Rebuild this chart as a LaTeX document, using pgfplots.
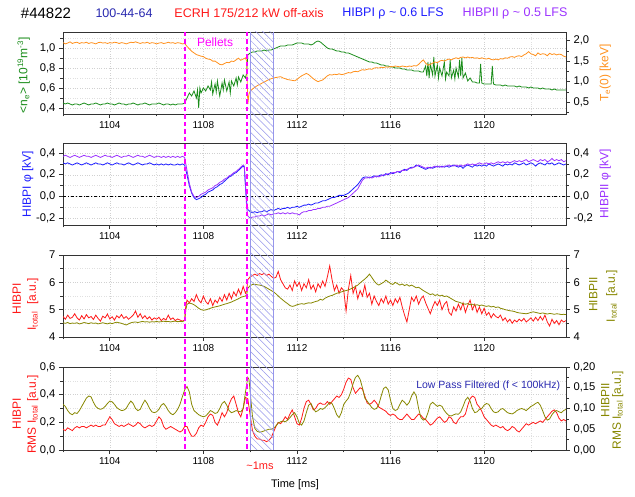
\documentclass[border=0pt]{standalone}
\usepackage{fontspec}
\setmainfont{Liberation Sans}
\usepackage{pgfplots}
\pgfplotsset{compat=1.18}
\usetikzlibrary{patterns.meta}
\definecolor{cgreen}{RGB}{25,140,25}
\definecolor{corange}{RGB}{255,145,30}
\definecolor{cblue}{RGB}{30,30,255}
\definecolor{cpurple}{RGB}{155,50,255}
\definecolor{cred}{RGB}{255,25,25}
\definecolor{colive}{RGB}{135,135,0}
\definecolor{cmag}{RGB}{255,0,255}
\definecolor{cdblue}{RGB}{40,40,175}
\definecolor{chatch}{RGB}{150,150,235}
\newcommand{\tfont}{\fontsize{10}{12}\selectfont}
\newcommand{\yfont}{\fontsize{11.2}{13}\selectfont}
\newcommand{\lfont}{\fontsize{12}{14}\selectfont}
\pgfplotsset{
  base/.style={scale only axis, width=503pt, height=82pt, xmin=1102, xmax=1123.5,
    axis line style={black!80, line width=0.8pt},
    tick align=outside, tick style={black!80, line width=0.6pt},
    major tick length=4pt, minor tick length=2.5pt,
    xticklabel style={font=\tfont}, yticklabel style={font=\yfont},
    every axis plot/.append style={line width=0.8pt}, clip mode=individual},
  leftax/.style={base, xtick={1104,1108,1112,1116,1120}, xticklabels={1104,1108,1112,1116,1120},
    minor xtick={1102,1106,1110,1114,1118,1122}, xtick pos=lower, ytick pos=left,
    grid=both, major grid style={black!18, dotted}, minor grid style={black!12, dotted}},
  rightax/.style={base, axis x line=none, axis y line*=right, ytick pos=right},
}
\begin{document}
\begin{tikzpicture}
\path[use as bounding box] (0,0) rectangle (635pt,497pt);
% header
\node[font=\fontsize{15}{17}\selectfont] at (46pt,484pt) {\#44822};
\node[font=\fontsize{12.5}{14}\selectfont, text=cdblue] at (124pt,484pt) {100-44-64};
\node[font=\fontsize{12.5}{14}\selectfont, text=cred] at (249pt,484pt) {ECRH 175/212 kW off-axis};
\node[font=\fontsize{12.5}{14}\selectfont, text=cblue] at (393pt,484pt) {HIBPI ρ \textasciitilde{} 0.6 LFS};
\node[font=\fontsize{12.5}{14}\selectfont, text=cpurple] at (515pt,484pt) {HIBPII ρ \textasciitilde{} 0.5 LFS};

% ================= Panel 1 =================
\begin{axis}[leftax, at={(63pt,383pt)}, anchor=south west, ymin=0.34, ymax=1.16,
  ytick={0.4,0.6,0.8,1.0}, yticklabels={{0,4},{0,6},{0,8},{1,0}}, minor ytick={0.5,0.7,0.9,1.1}]
\addplot[cgreen] coordinates {(1102.0,0.45)(1102.1,0.44)(1102.2,0.45)(1102.3,0.44)(1102.4,0.43)(1102.5,0.44)(1102.6,0.44)(1102.7,0.43)(1102.8,0.44)(1102.9,0.45)(1103.0,0.44)(1103.1,0.43)(1103.2,0.44)(1103.3,0.44)(1103.4,0.45)(1103.5,0.44)(1103.6,0.43)(1103.7,0.44)(1103.8,0.44)(1103.9,0.45)(1104.0,0.44)(1104.1,0.44)(1104.2,0.43)(1104.3,0.44)(1104.4,0.45)(1104.5,0.44)(1104.6,0.44)(1104.7,0.43)(1104.8,0.44)(1104.9,0.44)(1105.0,0.45)(1105.1,0.44)(1105.2,0.43)(1105.3,0.44)(1105.4,0.44)(1105.5,0.45)(1105.6,0.44)(1105.7,0.43)(1105.8,0.44)(1105.9,0.44)(1106.0,0.44)(1106.1,0.45)(1106.2,0.44)(1106.3,0.43)(1106.4,0.44)(1106.5,0.44)(1106.6,0.43)(1106.7,0.44)(1106.8,0.43)(1106.9,0.44)(1107.0,0.44)(1107.1,0.44)(1107.2,0.45)
(1107.3,0.50)(1107.4,0.55)(1107.5,0.52)(1107.6,0.57)(1107.7,0.50)(1107.75,0.58)(1107.8,0.40)(1107.85,0.60)(1107.9,0.55)(1108.0,0.60)(1108.1,0.57)(1108.2,0.62)(1108.3,0.58)(1108.35,0.66)(1108.4,0.54)(1108.5,0.64)(1108.55,0.56)(1108.6,0.67)(1108.7,0.52)(1108.8,0.65)(1108.85,0.58)(1108.9,0.68)(1109.0,0.57)(1109.1,0.66)(1109.15,0.55)(1109.2,0.67)(1109.3,0.62)(1109.4,0.70)(1109.45,0.63)(1109.5,0.71)(1109.6,0.66)(1109.7,0.73)(1109.8,0.70)(1109.85,0.75)
(1109.9,0.93)(1110.0,0.95)(1110.1,0.96)(1110.2,0.96)(1110.3,0.97)(1110.4,0.97)(1110.5,0.97)(1110.6,0.98)(1110.7,0.97)(1110.8,0.98)(1110.9,0.98)(1111.0,0.99)(1111.1,1.00)(1111.2,1.01)(1111.3,1.02)(1111.4,1.02)(1111.5,1.02)(1111.6,1.03)(1111.7,1.03)(1111.8,1.03)(1111.9,1.04)(1112.0,1.05)(1112.1,1.05)(1112.2,1.05)(1112.3,1.04)(1112.4,1.04)(1112.5,1.04)(1112.6,1.03)(1112.7,1.04)(1112.8,1.06)(1112.9,1.07)(1113.0,1.06)(1113.1,1.04)(1113.2,1.02)(1113.3,1.00)(1113.4,0.99)(1113.5,0.99)(1113.6,0.98)(1113.7,0.97)(1113.8,0.97)(1113.9,0.96)(1114.0,0.96)(1114.1,0.95)(1114.2,0.95)(1114.3,0.94)(1114.4,0.93)(1114.5,0.92)(1114.6,0.91)(1114.7,0.90)(1114.8,0.89)(1114.9,0.88)(1115.0,0.87)(1115.1,0.86)(1115.2,0.86)(1115.3,0.85)(1115.4,0.85)(1115.5,0.84)(1115.6,0.83)(1115.7,0.83)(1115.8,0.82)(1115.9,0.82)(1116.0,0.81)(1116.1,0.81)(1116.2,0.80)(1116.3,0.80)(1116.4,0.80)(1116.5,0.79)(1116.6,0.79)(1116.7,0.78)(1116.8,0.78)(1116.9,0.78)(1117.0,0.77)(1117.1,0.77)(1117.2,0.77)(1117.3,0.76)(1117.4,0.76)
(1117.5,0.82)(1117.55,0.72)(1117.6,0.86)(1117.65,0.70)(1117.7,0.84)(1117.8,0.73)(1117.85,0.91)(1117.9,0.72)(1118.0,0.83)(1118.05,0.70)(1118.1,0.80)(1118.2,0.72)(1118.3,0.86)(1118.35,0.69)(1118.4,0.76)(1118.5,0.72)(1118.55,0.88)(1118.6,0.70)(1118.7,0.78)(1118.75,0.69)(1118.8,0.80)(1118.9,0.71)(1118.95,0.88)(1119.0,0.72)(1119.05,0.90)(1119.1,0.70)(1119.2,0.75)(1119.3,0.67)(1119.4,0.70)(1119.5,0.66)(1119.6,0.66)(1119.7,0.65)(1119.8,0.65)(1119.85,0.84)(1119.9,0.65)(1120.0,0.64)(1120.1,0.64)(1120.2,0.64)(1120.3,0.64)(1120.35,0.82)(1120.4,0.64)(1120.5,0.63)(1120.6,0.63)(1120.7,0.63)(1120.8,0.62)(1120.9,0.63)(1121.0,0.62)(1121.1,0.62)(1121.2,0.62)(1121.3,0.62)(1121.4,0.61)(1121.5,0.62)(1121.6,0.61)(1121.7,0.61)(1121.8,0.61)(1121.9,0.60)(1122.0,0.61)(1122.1,0.60)(1122.2,0.60)(1122.3,0.60)(1122.4,0.59)(1122.5,0.60)(1122.6,0.59)(1122.7,0.59)(1122.8,0.59)(1122.9,0.58)(1123.0,0.59)(1123.1,0.58)(1123.2,0.58)(1123.3,0.58)(1123.4,0.58)(1123.5,0.58)};
\node[font=\lfont, text=cmag] at (axis cs:1108.5,1.06) {Pellets};
\node[font=\lfont, text=cgreen, rotate=90] at (axis description cs:-0.078,0.47) {<n\textsubscript{e}> [10\textsuperscript{19}m\textsuperscript{-3}]};
\coordinate (dA1) at (axis cs:1107.2,1.16);
\coordinate (dB1) at (axis cs:1109.85,1.16);
\coordinate (h1) at (axis cs:1110.0,1.16);
\end{axis}
\begin{axis}[rightax, at={(63pt,383pt)}, anchor=south west, ymin=0.21, ymax=2.21,
  ytick={0.5,1.0,1.5,2.0}, yticklabels={{0,5},{1,0},{1,5},{2,0}}, minor ytick={0.25,0.75,1.25,1.75}]
\addplot[corange] coordinates {(1102.0,1.95)(1102.1,1.92)(1102.2,1.94)(1102.3,1.97)(1102.4,1.93)(1102.5,1.95)(1102.6,1.96)(1102.7,1.93)(1102.8,1.95)(1102.9,1.94)(1103.0,1.96)(1103.1,1.93)(1103.2,1.95)(1103.3,1.94)(1103.4,1.92)(1103.5,1.95)(1103.6,1.96)(1103.7,1.94)(1103.8,1.95)(1103.9,1.93)(1104.0,1.95)(1104.1,1.94)(1104.2,1.96)(1104.3,1.95)(1104.4,1.93)(1104.5,1.95)(1104.6,1.94)(1104.7,1.92)(1104.8,1.94)(1104.9,1.96)(1105.0,1.95)(1105.1,1.97)(1105.2,1.95)(1105.3,1.93)(1105.4,1.95)(1105.5,1.94)(1105.6,1.96)(1105.7,1.93)(1105.8,1.95)(1105.9,1.94)(1106.0,1.92)(1106.1,1.94)(1106.2,1.95)(1106.3,1.93)(1106.4,1.94)(1106.5,1.96)(1106.6,1.94)(1106.7,1.95)(1106.8,1.93)(1106.9,1.95)(1107.0,1.94)(1107.1,1.92)(1107.2,1.93)
(1107.3,1.86)(1107.4,1.80)(1107.5,1.74)(1107.6,1.70)(1107.7,1.66)(1107.8,1.64)(1107.9,1.62)(1108.0,1.61)(1108.1,1.57)(1108.2,1.55)(1108.3,1.54)(1108.4,1.50)(1108.5,1.50)(1108.6,1.46)(1108.7,1.42)(1108.8,1.41)(1108.9,1.44)(1109.0,1.47)(1109.1,1.46)(1109.2,1.50)(1109.3,1.49)(1109.4,1.53)(1109.5,1.57)(1109.6,1.52)(1109.7,1.55)(1109.8,1.58)(1109.85,1.50)
(1109.9,0.45)(1109.95,0.70)(1110.0,0.76)(1110.1,0.82)(1110.2,0.86)(1110.3,0.90)(1110.4,0.93)(1110.5,0.96)(1110.6,0.99)(1110.7,1.02)(1110.8,1.05)(1110.9,1.07)(1111.0,1.09)(1111.1,1.10)(1111.2,1.11)(1111.3,1.12)(1111.4,1.09)(1111.5,1.07)(1111.6,1.05)(1111.7,1.04)(1111.8,1.03)(1111.9,1.02)(1112.0,1.05)(1112.1,1.10)(1112.2,1.14)(1112.3,1.17)(1112.4,1.20)(1112.5,1.17)(1112.6,1.12)(1112.7,1.07)(1112.8,1.03)(1112.9,1.00)(1113.0,1.02)(1113.1,1.04)(1113.2,1.09)(1113.3,1.14)(1113.4,1.17)(1113.5,1.16)(1113.6,1.18)(1113.7,1.17)(1113.8,1.19)(1113.9,1.17)(1114.0,1.18)(1114.1,1.20)(1114.2,1.22)(1114.3,1.21)(1114.4,1.24)(1114.5,1.25)(1114.6,1.24)(1114.7,1.27)(1114.8,1.29)(1114.9,1.28)(1115.0,1.30)(1115.1,1.31)(1115.2,1.30)(1115.3,1.33)(1115.4,1.34)(1115.5,1.33)(1115.6,1.35)(1115.7,1.34)(1115.8,1.36)(1115.9,1.35)(1116.0,1.37)(1116.1,1.36)(1116.2,1.38)(1116.3,1.37)(1116.4,1.36)(1116.5,1.38)(1116.6,1.37)(1116.7,1.36)(1116.8,1.38)(1116.9,1.37)(1117.0,1.39)(1117.1,1.38)(1117.2,1.42)(1117.3,1.48)(1117.4,1.53)(1117.5,1.45)(1117.6,1.40)(1117.7,1.42)(1117.8,1.45)(1117.9,1.48)(1118.0,1.46)(1118.1,1.50)(1118.2,1.52)(1118.3,1.50)(1118.4,1.53)(1118.5,1.55)(1118.6,1.53)(1118.7,1.56)(1118.8,1.58)(1118.9,1.56)(1119.0,1.59)(1119.1,1.60)(1119.2,1.58)(1119.3,1.60)(1119.4,1.58)(1119.5,1.59)(1119.6,1.57)(1119.7,1.58)(1119.8,1.56)(1119.9,1.58)(1120.0,1.56)(1120.1,1.55)(1120.2,1.57)(1120.3,1.54)(1120.4,1.53)(1120.5,1.55)(1120.6,1.53)(1120.7,1.56)(1120.8,1.55)(1120.9,1.58)(1121.0,1.57)(1121.1,1.60)(1121.2,1.61)(1121.3,1.59)(1121.4,1.62)(1121.5,1.63)(1121.6,1.61)(1121.7,1.65)(1121.8,1.68)(1121.9,1.73)(1122.0,1.68)(1122.1,1.66)(1122.2,1.63)(1122.3,1.70)(1122.4,1.66)(1122.5,1.68)(1122.6,1.67)(1122.7,1.63)(1122.8,1.69)(1122.9,1.66)(1123.0,1.68)(1123.1,1.65)(1123.2,1.67)(1123.3,1.66)(1123.4,1.62)(1123.5,1.60)};
\node[font=\lfont, text=corange, rotate=90] at (axis description cs:1.078,0.5) {T\textsubscript{e}(0) [keV]};
\end{axis}

% ================= Panel 2 =================
\begin{axis}[leftax, at={(63pt,272pt)}, anchor=south west, ymin=-0.263, ymax=0.493,
  ytick={-0.2,0,0.2,0.4}, yticklabels={{-0,2},{0,0},{0,2},{0,4}}, minor ytick={-0.1,0.1,0.3}]
\addplot[black, dash dot, line width=0.7pt] coordinates {(1102,0)(1123.5,0)};
\addplot[cblue] coordinates {(1102.0,0.31)(1102.1,0.30)(1102.2,0.31)(1102.3,0.30)(1102.4,0.29)(1102.5,0.30)(1102.6,0.31)(1102.7,0.30)(1102.8,0.29)(1102.9,0.30)(1103.0,0.31)(1103.1,0.30)(1103.2,0.29)(1103.3,0.30)(1103.4,0.31)(1103.5,0.30)(1103.6,0.30)(1103.7,0.29)(1103.8,0.30)(1103.9,0.31)(1104.0,0.30)(1104.1,0.29)(1104.2,0.30)(1104.3,0.31)(1104.4,0.30)(1104.5,0.30)(1104.6,0.29)(1104.7,0.30)(1104.8,0.31)(1104.9,0.30)(1105.0,0.29)(1105.1,0.30)(1105.2,0.31)(1105.3,0.30)(1105.4,0.29)(1105.5,0.30)(1105.6,0.30)(1105.7,0.31)(1105.8,0.30)(1105.9,0.29)(1106.0,0.30)(1106.1,0.29)(1106.2,0.30)(1106.3,0.29)(1106.4,0.30)(1106.5,0.29)(1106.6,0.30)(1106.7,0.29)(1106.8,0.29)(1106.9,0.30)(1107.0,0.29)(1107.1,0.30)(1107.2,0.29)
(1107.3,0.20)(1107.4,0.10)(1107.5,0.03)(1107.6,-0.01)(1107.7,-0.03)(1107.8,-0.02)(1107.9,-0.01)(1108.0,0.01)(1108.1,0.02)(1108.2,0.04)(1108.3,0.05)(1108.4,0.06)(1108.5,0.08)(1108.6,0.09)(1108.7,0.11)(1108.8,0.12)(1108.9,0.14)(1109.0,0.16)(1109.1,0.18)(1109.2,0.19)(1109.3,0.21)(1109.4,0.22)(1109.5,0.24)(1109.6,0.26)(1109.7,0.28)(1109.75,0.27)
(1109.8,0.10)(1109.85,-0.05)(1109.9,-0.12)(1110.0,-0.14)(1110.1,-0.15)(1110.2,-0.14)(1110.3,-0.15)(1110.4,-0.14)(1110.5,-0.14)(1110.6,-0.13)(1110.7,-0.14)(1110.8,-0.13)(1110.9,-0.12)(1111.0,-0.13)(1111.1,-0.12)(1111.2,-0.11)(1111.3,-0.12)(1111.4,-0.11)(1111.5,-0.11)(1111.6,-0.10)(1111.7,-0.11)(1111.8,-0.10)(1111.9,-0.10)(1112.0,-0.09)(1112.1,-0.10)(1112.2,-0.09)(1112.3,-0.08)(1112.4,-0.08)(1112.5,-0.07)(1112.6,-0.08)(1112.7,-0.07)(1112.8,-0.06)(1112.9,-0.06)(1113.0,-0.05)(1113.1,-0.04)(1113.2,-0.04)(1113.3,-0.03)(1113.4,-0.02)(1113.5,-0.01)(1113.6,-0.01)(1113.7,0.00)(1113.8,0.01)(1113.9,0.01)(1114.0,0.01)(1114.1,0.02)(1114.2,0.03)(1114.3,0.05)(1114.4,0.07)(1114.5,0.09)(1114.6,0.11)(1114.7,0.14)(1114.8,0.17)(1114.9,0.18)(1115.0,0.18)(1115.1,0.17)(1115.2,0.18)(1115.3,0.19)(1115.4,0.18)(1115.5,0.19)(1115.6,0.20)(1115.7,0.19)(1115.8,0.21)(1115.9,0.20)(1116.0,0.22)(1116.1,0.21)(1116.2,0.22)(1116.3,0.23)(1116.4,0.22)(1116.5,0.24)(1116.6,0.25)(1116.7,0.24)(1116.8,0.26)(1116.9,0.27)(1117.0,0.27)(1117.1,0.29)(1117.2,0.28)(1117.3,0.27)(1117.4,0.26)(1117.5,0.25)(1117.6,0.26)(1117.7,0.27)(1117.8,0.26)(1117.9,0.27)(1118.0,0.28)(1118.1,0.27)(1118.2,0.28)(1118.3,0.27)(1118.4,0.28)(1118.5,0.27)(1118.6,0.28)(1118.7,0.29)(1118.8,0.28)(1118.9,0.27)(1119.0,0.28)(1119.1,0.26)(1119.2,0.28)(1119.3,0.29)(1119.4,0.28)(1119.5,0.27)(1119.6,0.29)(1119.7,0.28)(1119.8,0.29)(1119.9,0.28)(1120.0,0.29)(1120.1,0.28)(1120.2,0.30)(1120.3,0.29)(1120.4,0.28)(1120.5,0.29)(1120.6,0.30)(1120.7,0.29)(1120.8,0.28)(1120.9,0.30)(1121.0,0.29)(1121.1,0.30)(1121.2,0.29)(1121.3,0.31)(1121.4,0.30)(1121.5,0.29)(1121.6,0.30)(1121.7,0.31)(1121.8,0.29)(1121.9,0.30)(1122.0,0.31)(1122.1,0.30)(1122.2,0.28)(1122.3,0.30)(1122.4,0.31)(1122.5,0.30)(1122.6,0.29)(1122.7,0.31)(1122.8,0.30)(1122.9,0.31)(1123.0,0.29)(1123.1,0.30)(1123.2,0.31)(1123.3,0.30)(1123.4,0.29)(1123.5,0.30)};
\node[font=\lfont, text=cblue, rotate=90] at (axis description cs:-0.07,0.5) {HIBPI φ [kV]};
\end{axis}
\begin{axis}[rightax, at={(63pt,272pt)}, anchor=south west, ymin=-0.263, ymax=0.493,
  ytick={-0.2,0,0.2,0.4}, yticklabels={{-0,2},{0,0},{0,2},{0,4}}, minor ytick={-0.1,0.1,0.3}]
\addplot[cpurple] coordinates {(1102.0,0.37)(1102.1,0.38)(1102.2,0.37)(1102.3,0.36)(1102.4,0.37)(1102.5,0.38)(1102.6,0.37)(1102.7,0.36)(1102.8,0.37)(1102.9,0.38)(1103.0,0.37)(1103.1,0.37)(1103.2,0.36)(1103.3,0.37)(1103.4,0.38)(1103.5,0.37)(1103.6,0.36)(1103.7,0.37)(1103.8,0.38)(1103.9,0.37)(1104.0,0.37)(1104.1,0.36)(1104.2,0.37)(1104.3,0.38)(1104.4,0.37)(1104.5,0.36)(1104.6,0.37)(1104.7,0.37)(1104.8,0.38)(1104.9,0.37)(1105.0,0.36)(1105.1,0.37)(1105.2,0.38)(1105.3,0.37)(1105.4,0.37)(1105.5,0.36)(1105.6,0.37)(1105.7,0.38)(1105.8,0.37)(1105.9,0.36)(1106.0,0.37)(1106.1,0.37)(1106.2,0.36)(1106.3,0.37)(1106.4,0.36)(1106.5,0.37)(1106.6,0.36)(1106.7,0.37)(1106.8,0.36)(1106.9,0.37)(1107.0,0.36)(1107.1,0.37)(1107.2,0.36)
(1107.3,0.24)(1107.4,0.12)(1107.5,0.04)(1107.6,0.00)(1107.7,-0.01)(1107.8,0.00)(1107.9,0.02)(1108.0,0.03)(1108.1,0.04)(1108.2,0.06)(1108.3,0.07)(1108.4,0.08)(1108.5,0.10)(1108.6,0.11)(1108.7,0.13)(1108.8,0.14)(1108.9,0.16)(1109.0,0.17)(1109.1,0.19)(1109.2,0.20)(1109.3,0.22)(1109.4,0.23)(1109.5,0.25)(1109.6,0.27)(1109.7,0.29)(1109.75,0.28)
(1109.8,0.08)(1109.85,-0.10)(1109.9,-0.18)(1110.0,-0.20)(1110.1,-0.19)(1110.2,-0.19)(1110.3,-0.18)(1110.4,-0.18)(1110.5,-0.17)(1110.6,-0.18)(1110.7,-0.17)(1110.8,-0.16)(1110.9,-0.17)(1111.0,-0.16)(1111.1,-0.16)(1111.2,-0.15)(1111.3,-0.16)(1111.4,-0.15)(1111.5,-0.16)(1111.6,-0.15)(1111.7,-0.16)(1111.8,-0.15)(1111.9,-0.16)(1112.0,-0.16)(1112.1,-0.17)(1112.2,-0.15)(1112.3,-0.14)(1112.4,-0.14)(1112.5,-0.13)(1112.6,-0.13)(1112.7,-0.12)(1112.8,-0.12)(1112.9,-0.11)(1113.0,-0.11)(1113.1,-0.10)(1113.2,-0.10)(1113.3,-0.09)(1113.4,-0.09)(1113.5,-0.08)(1113.6,-0.07)(1113.7,-0.06)(1113.8,-0.05)(1113.9,-0.04)(1114.0,-0.03)(1114.1,-0.02)(1114.2,-0.01)(1114.3,0.01)(1114.4,0.03)(1114.5,0.05)(1114.6,0.07)(1114.7,0.11)(1114.8,0.15)(1114.9,0.17)(1115.0,0.17)(1115.1,0.18)(1115.2,0.17)(1115.3,0.18)(1115.4,0.19)(1115.5,0.18)(1115.6,0.19)(1115.7,0.20)(1115.8,0.20)(1115.9,0.21)(1116.0,0.21)(1116.1,0.22)(1116.2,0.22)(1116.3,0.23)(1116.4,0.23)(1116.5,0.24)(1116.6,0.24)(1116.7,0.25)(1116.8,0.26)(1116.9,0.26)(1117.0,0.27)(1117.1,0.28)(1117.2,0.29)(1117.3,0.28)(1117.4,0.27)(1117.5,0.26)(1117.6,0.27)(1117.7,0.26)(1117.8,0.27)(1117.9,0.28)(1118.0,0.27)(1118.1,0.28)(1118.2,0.27)(1118.3,0.28)(1118.4,0.28)(1118.5,0.29)(1118.6,0.28)(1118.7,0.28)(1118.8,0.29)(1118.9,0.28)(1119.0,0.29)(1119.1,0.28)(1119.2,0.29)(1119.3,0.30)(1119.4,0.29)(1119.5,0.30)(1119.6,0.29)(1119.7,0.30)(1119.8,0.31)(1119.9,0.30)(1120.0,0.30)(1120.1,0.31)(1120.2,0.30)(1120.3,0.31)(1120.4,0.30)(1120.5,0.31)(1120.6,0.32)(1120.7,0.31)(1120.8,0.32)(1120.9,0.31)(1121.0,0.32)(1121.1,0.31)(1121.2,0.32)(1121.3,0.33)(1121.4,0.32)(1121.5,0.33)(1121.6,0.32)(1121.7,0.33)(1121.8,0.34)(1121.9,0.32)(1122.0,0.33)(1122.1,0.34)(1122.2,0.33)(1122.3,0.32)(1122.4,0.34)(1122.5,0.33)(1122.6,0.34)(1122.7,0.32)(1122.8,0.33)(1122.9,0.35)(1123.0,0.33)(1123.1,0.34)(1123.2,0.33)(1123.3,0.34)(1123.4,0.32)(1123.5,0.33)};
\node[font=\lfont, text=cpurple, rotate=90] at (axis description cs:1.078,0.5) {HIBPII φ [kV]};
\end{axis}

% ================= Panel 3 =================
\begin{axis}[leftax, at={(63pt,160pt)}, anchor=south west, ymin=4, ymax=7,
  ytick={4,5,6,7}, yticklabels={4,5,6,7}, minor ytick={4.5,5.5,6.5}]
\addplot[cred] coordinates {(1102.0,4.75)(1102.1,4.65)(1102.2,4.80)(1102.3,4.68)(1102.4,4.72)(1102.5,4.85)(1102.6,4.70)(1102.7,4.62)(1102.8,4.78)(1102.9,4.66)(1103.0,4.82)(1103.1,4.70)(1103.2,4.75)(1103.3,4.64)(1103.4,4.80)(1103.5,4.68)(1103.6,4.58)(1103.7,4.76)(1103.8,4.70)(1103.9,4.84)(1104.0,4.66)(1104.1,4.74)(1104.2,4.62)(1104.3,4.78)(1104.4,4.70)(1104.5,4.82)(1104.6,4.68)(1104.7,4.75)(1104.8,4.65)(1104.9,4.72)(1105.0,4.80)(1105.1,4.95)(1105.2,4.72)(1105.3,4.85)(1105.4,4.68)(1105.5,4.78)(1105.6,4.66)(1105.7,4.74)(1105.8,4.62)(1105.9,4.70)(1106.0,4.65)(1106.1,4.72)(1106.2,4.60)(1106.3,4.68)(1106.4,4.62)(1106.5,4.80)(1106.6,4.64)(1106.7,4.70)(1106.8,4.60)(1106.9,4.66)(1107.0,4.62)(1107.1,4.58)(1107.2,4.62)
(1107.25,5.15)(1107.3,5.35)(1107.4,5.25)(1107.5,5.40)(1107.6,5.30)(1107.7,5.55)(1107.8,5.35)(1107.9,5.25)(1108.0,5.50)(1108.1,5.30)(1108.2,5.20)(1108.3,5.40)(1108.4,5.15)(1108.5,5.35)(1108.6,5.25)(1108.7,5.45)(1108.8,5.30)(1108.9,5.55)(1109.0,5.35)(1109.1,5.60)(1109.2,5.40)(1109.3,5.65)(1109.4,5.50)(1109.5,5.75)(1109.6,5.55)(1109.7,5.85)(1109.8,5.60)(1109.85,5.70)
(1109.9,6.10)(1110.0,6.20)(1110.1,6.25)(1110.2,6.30)(1110.3,6.25)(1110.4,6.32)(1110.5,6.28)(1110.6,6.33)(1110.7,6.25)(1110.8,6.30)(1110.9,6.22)(1111.0,6.15)(1111.1,6.18)(1111.2,6.40)(1111.3,6.10)(1111.4,5.95)(1111.5,5.80)(1111.6,5.75)(1111.7,5.90)(1111.8,5.70)(1111.9,6.05)(1112.0,5.85)(1112.1,6.00)(1112.2,5.70)(1112.3,5.95)(1112.4,5.80)(1112.5,6.10)(1112.6,5.75)(1112.7,5.90)(1112.8,5.65)(1112.9,5.95)(1113.0,5.80)(1113.1,6.05)(1113.2,5.85)(1113.3,6.20)(1113.4,6.60)(1113.5,6.10)(1113.6,5.70)(1113.7,5.90)(1113.8,5.60)(1113.9,5.80)(1114.0,5.70)(1114.1,4.95)(1114.2,5.75)(1114.3,6.25)(1114.4,5.60)(1114.5,5.85)(1114.6,5.40)(1114.7,5.70)(1114.8,5.50)(1114.9,5.90)(1115.0,5.45)(1115.1,5.60)(1115.2,5.20)(1115.3,5.50)(1115.4,5.30)(1115.5,5.15)(1115.6,5.40)(1115.7,5.25)(1115.8,5.50)(1115.9,5.20)(1116.0,5.35)(1116.1,5.15)(1116.2,5.40)(1116.3,5.25)(1116.4,5.45)(1116.5,5.10)(1116.6,4.80)(1116.7,4.55)(1116.8,5.00)(1116.9,5.45)(1117.0,5.30)(1117.1,5.50)(1117.2,5.20)(1117.3,5.40)(1117.4,5.50)(1117.5,5.25)(1117.6,5.05)(1117.7,4.85)(1117.8,5.10)(1117.9,5.30)(1118.0,5.15)(1118.1,5.35)(1118.2,5.00)(1118.3,5.20)(1118.4,5.30)(1118.5,4.90)(1118.6,4.80)(1118.7,5.10)(1118.8,4.95)(1118.9,5.20)(1119.0,5.00)(1119.1,5.25)(1119.2,4.90)(1119.3,5.15)(1119.4,5.35)(1119.5,5.00)(1119.6,5.20)(1119.7,4.90)(1119.8,5.10)(1119.9,4.85)(1120.0,5.05)(1120.1,4.80)(1120.2,4.90)(1120.3,4.70)(1120.4,4.85)(1120.5,4.75)(1120.6,4.70)(1120.7,4.80)(1120.8,4.60)(1120.9,4.70)(1121.0,4.55)(1121.1,4.65)(1121.2,4.50)(1121.3,4.62)(1121.4,4.55)(1121.5,4.65)(1121.6,4.58)(1121.7,4.68)(1121.8,4.55)(1121.9,4.62)(1122.0,4.70)(1122.1,4.58)(1122.2,4.72)(1122.3,4.60)(1122.4,4.75)(1122.5,4.62)(1122.6,4.80)(1122.7,4.55)(1122.8,4.40)(1122.9,4.65)(1123.0,4.50)(1123.1,4.60)(1123.2,4.45)(1123.3,4.62)(1123.4,4.55)(1123.5,4.60)};
\node[font=\lfont, text=cred, rotate=90] at (axis description cs:-0.092,0.47) {HIBPI};
\node[font=\lfont, text=cred, rotate=90] at (axis description cs:-0.06,0.4) {I\textsubscript{total}\ \ [a.u.]};
\end{axis}
\begin{axis}[rightax, at={(63pt,160pt)}, anchor=south west, ymin=4, ymax=7,
  ytick={4,5,6,7}, yticklabels={4,5,6,7}, minor ytick={4.5,5.5,6.5}]
\addplot[colive] coordinates {(1102.0,4.52)(1102.1,4.50)(1102.2,4.53)(1102.3,4.49)(1102.4,4.51)(1102.5,4.50)(1102.6,4.52)(1102.7,4.48)(1102.8,4.50)(1102.9,4.53)(1103.0,4.51)(1103.1,4.49)(1103.2,4.52)(1103.3,4.50)(1103.4,4.51)(1103.5,4.48)(1103.6,4.50)(1103.7,4.52)(1103.8,4.50)(1103.9,4.48)(1104.0,4.51)(1104.1,4.49)(1104.2,4.52)(1104.3,4.54)(1104.4,4.52)(1104.5,4.50)(1104.6,4.47)(1104.7,4.44)(1104.8,4.48)(1104.9,4.52)(1105.0,4.54)(1105.1,4.55)(1105.2,4.53)(1105.3,4.55)(1105.4,4.57)(1105.5,4.55)(1105.6,4.56)(1105.7,4.54)(1105.8,4.56)(1105.9,4.55)(1106.0,4.57)(1106.1,4.55)(1106.2,4.56)(1106.3,4.58)(1106.4,4.56)(1106.5,4.57)(1106.6,4.55)(1106.7,4.57)(1106.8,4.58)(1106.9,4.56)(1107.0,4.57)(1107.1,4.56)(1107.2,4.60)
(1107.25,5.00)(1107.3,5.20)(1107.4,5.24)(1107.5,5.22)(1107.6,5.18)(1107.7,5.12)(1107.8,5.05)(1107.9,5.00)(1108.0,4.98)(1108.1,4.99)(1108.2,5.02)(1108.3,5.05)(1108.4,5.08)(1108.5,5.10)(1108.6,5.12)(1108.7,5.14)(1108.8,5.17)(1108.9,5.20)(1109.0,5.22)(1109.1,5.25)(1109.2,5.28)(1109.3,5.32)(1109.4,5.36)(1109.5,5.40)(1109.6,5.45)(1109.7,5.48)(1109.8,5.50)(1109.85,5.55)
(1109.9,5.78)(1110.0,5.88)(1110.1,5.92)(1110.2,5.93)(1110.3,5.91)(1110.4,5.90)(1110.5,5.88)(1110.6,5.85)(1110.7,5.80)(1110.8,5.75)(1110.9,5.70)(1111.0,5.65)(1111.1,5.58)(1111.2,5.50)(1111.3,5.42)(1111.4,5.35)(1111.5,5.28)(1111.6,5.22)(1111.7,5.15)(1111.8,5.12)(1111.9,5.14)(1112.0,5.18)(1112.1,5.20)(1112.2,5.22)(1112.3,5.20)(1112.4,5.23)(1112.5,5.25)(1112.6,5.24)(1112.7,5.27)(1112.8,5.30)(1112.9,5.32)(1113.0,5.38)(1113.1,5.35)(1113.2,5.42)(1113.3,5.46)(1113.4,5.50)(1113.5,5.52)(1113.6,5.56)(1113.7,5.60)(1113.8,5.62)(1113.9,5.65)(1114.0,5.68)(1114.1,5.70)(1114.2,5.72)(1114.3,5.76)(1114.4,5.80)(1114.5,5.85)(1114.6,5.90)(1114.7,5.98)(1114.8,6.05)(1114.9,6.12)(1115.0,6.20)(1115.1,6.30)(1115.2,6.18)(1115.3,6.05)(1115.4,5.95)(1115.5,5.90)(1115.6,5.95)(1115.7,6.00)(1115.8,6.08)(1115.9,6.02)(1116.0,5.96)(1116.1,5.92)(1116.2,6.00)(1116.3,5.95)(1116.4,5.90)(1116.5,5.94)(1116.6,5.88)(1116.7,5.92)(1116.8,5.86)(1116.9,5.90)(1117.0,5.85)(1117.1,5.80)(1117.2,5.82)(1117.3,5.76)(1117.4,5.70)(1117.5,5.65)(1117.6,5.60)(1117.7,5.55)(1117.8,5.58)(1117.9,5.52)(1118.0,5.55)(1118.1,5.50)(1118.2,5.53)(1118.3,5.48)(1118.4,5.50)(1118.5,5.45)(1118.6,5.40)(1118.7,5.35)(1118.8,5.30)(1118.9,5.28)(1119.0,5.25)(1119.1,5.22)(1119.2,5.20)(1119.3,5.22)(1119.4,5.18)(1119.5,5.20)(1119.6,5.16)(1119.7,5.18)(1119.8,5.15)(1119.9,5.17)(1120.0,5.14)(1120.1,5.12)(1120.2,5.14)(1120.3,5.10)(1120.4,5.12)(1120.5,5.08)(1120.6,5.10)(1120.7,5.05)(1120.8,5.03)(1120.9,5.00)(1121.0,4.98)(1121.1,4.96)(1121.2,4.95)(1121.3,4.93)(1121.4,4.90)(1121.5,4.88)(1121.6,4.87)(1121.7,4.86)(1121.8,4.85)(1121.9,4.87)(1122.0,4.90)(1122.1,4.92)(1122.2,4.90)(1122.3,4.88)(1122.4,4.86)(1122.5,4.88)(1122.6,4.86)(1122.7,4.84)(1122.8,4.86)(1122.9,4.85)(1123.0,4.83)(1123.1,4.85)(1123.2,4.84)(1123.3,4.82)(1123.4,4.83)(1123.5,4.82)};
\node[font=\lfont, text=colive, rotate=90] at (axis description cs:1.054,0.52) {HIBPII};
\node[font=\lfont, text=colive, rotate=90] at (axis description cs:1.091,0.5) {I\textsubscript{total}\ \ [a.u.]};
\end{axis}

% ================= Panel 4 =================
\begin{axis}[leftax, at={(63pt,47pt)}, anchor=south west, height=83pt, ymin=0, ymax=0.6,
  ytick={0,0.2,0.4,0.6}, yticklabels={{0,0},{0,2},{0,4},{0,6}}, minor ytick={0.1,0.3,0.5}]
\addplot[cred] coordinates {(1102.0,0.15)(1102.1,0.14)(1102.2,0.16)(1102.3,0.15)(1102.4,0.14)(1102.5,0.16)(1102.6,0.17)(1102.7,0.16)(1102.8,0.17)(1102.9,0.17)(1103.0,0.16)(1103.1,0.17)(1103.2,0.18)(1103.3,0.17)(1103.4,0.18)(1103.5,0.17)(1103.6,0.17)(1103.7,0.18)(1103.8,0.18)(1103.9,0.21)(1104.0,0.24)(1104.1,0.22)(1104.2,0.19)(1104.3,0.18)(1104.4,0.17)(1104.5,0.18)(1104.6,0.17)(1104.7,0.18)(1104.8,0.19)(1104.9,0.18)(1105.0,0.17)(1105.1,0.18)(1105.2,0.20)(1105.3,0.19)(1105.4,0.17)(1105.5,0.16)(1105.6,0.17)(1105.7,0.18)(1105.8,0.17)(1105.9,0.18)(1106.0,0.21)(1106.1,0.24)(1106.2,0.22)(1106.3,0.17)(1106.4,0.15)(1106.5,0.16)(1106.6,0.17)(1106.7,0.16)(1106.8,0.15)(1106.9,0.14)(1107.0,0.13)(1107.1,0.14)(1107.2,0.17)(1107.3,0.17)(1107.4,0.13)(1107.5,0.10)(1107.6,0.10)(1107.7,0.12)(1107.8,0.16)(1107.9,0.18)(1108.0,0.17)(1108.1,0.20)(1108.2,0.24)(1108.3,0.26)(1108.4,0.25)(1108.5,0.20)(1108.6,0.18)(1108.7,0.22)(1108.8,0.27)(1108.9,0.24)(1109.0,0.27)(1109.1,0.33)(1109.2,0.37)(1109.3,0.39)(1109.4,0.33)(1109.5,0.27)(1109.6,0.24)(1109.7,0.30)(1109.8,0.38)(1109.9,0.37)(1110.0,0.25)(1110.1,0.14)(1110.2,0.10)(1110.3,0.08)(1110.4,0.08)(1110.5,0.07)(1110.6,0.07)(1110.7,0.06)(1110.8,0.07)(1110.9,0.09)(1111.0,0.13)(1111.1,0.17)(1111.2,0.20)(1111.3,0.19)(1111.4,0.21)(1111.5,0.24)(1111.6,0.22)(1111.7,0.26)(1111.8,0.29)(1111.9,0.24)(1112.0,0.19)(1112.1,0.18)(1112.2,0.23)(1112.3,0.30)(1112.4,0.35)(1112.5,0.36)(1112.6,0.33)(1112.7,0.29)(1112.8,0.30)(1112.9,0.33)(1113.0,0.34)(1113.1,0.33)(1113.2,0.33)(1113.3,0.35)(1113.4,0.33)(1113.5,0.35)(1113.6,0.37)(1113.7,0.39)(1113.8,0.38)(1113.9,0.40)(1114.0,0.44)(1114.1,0.49)(1114.2,0.52)(1114.3,0.51)(1114.4,0.45)(1114.5,0.41)(1114.6,0.43)(1114.7,0.45)(1114.8,0.44)(1114.9,0.39)(1115.0,0.34)(1115.1,0.33)(1115.2,0.34)(1115.3,0.36)(1115.4,0.34)(1115.5,0.31)(1115.6,0.30)(1115.7,0.29)(1115.8,0.28)(1115.9,0.26)(1116.0,0.25)(1116.1,0.26)(1116.2,0.25)(1116.3,0.23)(1116.4,0.22)(1116.5,0.22)(1116.6,0.24)(1116.7,0.26)(1116.8,0.24)(1116.9,0.22)(1117.0,0.22)(1117.1,0.24)(1117.2,0.26)(1117.3,0.25)(1117.4,0.23)(1117.5,0.22)(1117.6,0.20)(1117.7,0.18)(1117.8,0.19)(1117.9,0.21)(1118.0,0.23)(1118.1,0.24)(1118.2,0.22)(1118.3,0.20)(1118.4,0.21)(1118.5,0.24)(1118.6,0.23)(1118.7,0.20)(1118.8,0.19)(1118.9,0.22)(1119.0,0.24)(1119.1,0.24)(1119.2,0.26)(1119.3,0.32)(1119.4,0.37)(1119.5,0.39)(1119.6,0.38)(1119.7,0.33)(1119.8,0.31)(1119.9,0.28)(1120.0,0.24)(1120.1,0.22)(1120.2,0.20)(1120.3,0.18)(1120.4,0.17)(1120.5,0.18)(1120.6,0.17)(1120.7,0.16)(1120.8,0.17)(1120.9,0.15)(1121.0,0.14)(1121.1,0.15)(1121.2,0.17)(1121.3,0.16)(1121.4,0.14)(1121.5,0.13)(1121.6,0.15)(1121.7,0.17)(1121.8,0.19)(1121.9,0.18)(1122.0,0.19)(1122.1,0.20)(1122.2,0.19)(1122.3,0.20)(1122.4,0.21)(1122.5,0.20)(1122.6,0.22)(1122.7,0.24)(1122.8,0.26)(1122.9,0.28)(1123.0,0.29)(1123.1,0.27)(1123.2,0.23)(1123.3,0.21)(1123.4,0.22)(1123.5,0.21)};
\node[font=\lfont, text=cred, rotate=90] at (axis description cs:-0.092,0.44) {HIBPI};
\node[font=\lfont, text=cred, rotate=90] at (axis description cs:-0.06,0.43) {RMS I\textsubscript{total} [a.u.]};
\node[font=\fontsize{10.5}{12}\selectfont, text=cdblue, anchor=east] at (axis cs:1123.4,0.467) {Low Pass Filtered (f < 100kHz)};
\coordinate (dA4) at (axis cs:1107.2,0);
\coordinate (dB4) at (axis cs:1109.85,0);
\coordinate (h4) at (axis cs:1111.0,0);
\end{axis}
\begin{axis}[rightax, at={(63pt,47pt)}, anchor=south west, height=83pt, ymin=0, ymax=0.2,
  ytick={0,0.05,0.1,0.15,0.2}, yticklabels={{0,00},{0,05},{0,10},{0,15},{0,20}}, minor ytick={0.025,0.075,0.125,0.175}]
\addplot[colive] coordinates {(1102.0,0.110)(1102.1,0.105)(1102.2,0.095)(1102.3,0.088)(1102.4,0.085)(1102.5,0.090)(1102.6,0.088)(1102.7,0.095)(1102.8,0.105)(1102.9,0.115)(1103.0,0.125)(1103.1,0.130)(1103.2,0.128)(1103.3,0.115)(1103.4,0.105)(1103.5,0.100)(1103.6,0.098)(1103.7,0.100)(1103.8,0.105)(1103.9,0.112)(1104.0,0.118)(1104.1,0.116)(1104.2,0.110)(1104.3,0.102)(1104.4,0.098)(1104.5,0.095)(1104.6,0.096)(1104.7,0.100)(1104.8,0.110)(1104.9,0.118)(1105.0,0.112)(1105.1,0.100)(1105.2,0.095)(1105.3,0.098)(1105.4,0.110)(1105.5,0.120)(1105.6,0.112)(1105.7,0.100)(1105.8,0.092)(1105.9,0.090)(1106.0,0.092)(1106.1,0.098)(1106.2,0.108)(1106.3,0.112)(1106.4,0.105)(1106.5,0.095)(1106.6,0.088)(1106.7,0.085)(1106.8,0.090)(1106.9,0.098)(1107.0,0.110)(1107.1,0.128)(1107.2,0.145)(1107.3,0.153)(1107.4,0.140)(1107.5,0.110)(1107.6,0.095)(1107.7,0.090)(1107.8,0.085)(1107.9,0.082)(1108.0,0.080)(1108.1,0.082)(1108.2,0.088)(1108.3,0.095)(1108.4,0.092)(1108.5,0.088)(1108.6,0.090)(1108.7,0.100)(1108.8,0.112)(1108.9,0.117)(1109.0,0.108)(1109.1,0.095)(1109.2,0.090)(1109.3,0.092)(1109.4,0.095)(1109.5,0.093)(1109.6,0.092)(1109.7,0.100)(1109.8,0.140)(1109.9,0.175)(1109.95,0.170)(1110.0,0.140)(1110.1,0.080)(1110.2,0.052)(1110.3,0.045)(1110.4,0.043)(1110.5,0.044)(1110.6,0.046)(1110.7,0.048)(1110.8,0.050)(1110.9,0.050)(1111.0,0.052)(1111.1,0.058)(1111.2,0.065)(1111.3,0.068)(1111.4,0.070)(1111.5,0.068)(1111.6,0.072)(1111.7,0.078)(1111.8,0.085)(1111.9,0.090)(1112.0,0.080)(1112.1,0.065)(1112.2,0.060)(1112.3,0.070)(1112.4,0.090)(1112.5,0.108)(1112.6,0.112)(1112.7,0.100)(1112.8,0.092)(1112.9,0.095)(1113.0,0.100)(1113.1,0.098)(1113.2,0.102)(1113.3,0.108)(1113.4,0.115)(1113.5,0.112)(1113.6,0.100)(1113.7,0.085)(1113.8,0.078)(1113.9,0.090)(1114.0,0.110)(1114.1,0.118)(1114.2,0.125)(1114.3,0.140)(1114.4,0.160)(1114.5,0.175)(1114.6,0.180)(1114.7,0.170)(1114.8,0.150)(1114.9,0.125)(1115.0,0.118)(1115.1,0.110)(1115.2,0.102)(1115.3,0.098)(1115.4,0.100)(1115.5,0.110)(1115.6,0.130)(1115.7,0.148)(1115.8,0.152)(1115.9,0.145)(1116.0,0.120)(1116.1,0.100)(1116.2,0.095)(1116.3,0.098)(1116.4,0.110)(1116.5,0.120)(1116.6,0.115)(1116.7,0.108)(1116.8,0.115)(1116.9,0.130)(1117.0,0.140)(1117.1,0.130)(1117.2,0.100)(1117.3,0.078)(1117.4,0.072)(1117.5,0.075)(1117.6,0.090)(1117.7,0.110)(1117.8,0.115)(1117.9,0.110)(1118.0,0.105)(1118.1,0.108)(1118.2,0.105)(1118.3,0.095)(1118.4,0.088)(1118.5,0.083)(1118.6,0.082)(1118.7,0.085)(1118.8,0.087)(1118.9,0.086)(1119.0,0.092)(1119.1,0.105)(1119.2,0.120)(1119.3,0.127)(1119.4,0.118)(1119.5,0.100)(1119.6,0.090)(1119.7,0.092)(1119.8,0.098)(1119.9,0.100)(1120.0,0.108)(1120.1,0.112)(1120.2,0.110)(1120.3,0.100)(1120.4,0.092)(1120.5,0.090)(1120.6,0.092)(1120.7,0.098)(1120.8,0.100)(1120.9,0.095)(1121.0,0.090)(1121.1,0.088)(1121.2,0.087)(1121.3,0.090)(1121.4,0.095)(1121.5,0.098)(1121.6,0.100)(1121.7,0.098)(1121.8,0.095)(1121.9,0.100)(1122.0,0.105)(1122.1,0.108)(1122.2,0.112)(1122.3,0.115)(1122.4,0.108)(1122.5,0.095)(1122.6,0.080)(1122.7,0.072)(1122.8,0.075)(1122.9,0.085)(1123.0,0.092)(1123.1,0.095)(1123.2,0.092)(1123.3,0.090)(1123.4,0.095)(1123.5,0.098)};
\node[font=\lfont, text=colive, rotate=90] at (axis description cs:1.078,0.6) {HIBPII};
\node[font=\lfont, text=colive, rotate=90] at (axis description cs:1.103,0.48) {RMS I\textsubscript{total} [a.u.]};
\end{axis}

% pellet markers, hatched interval
\fill[pattern={Lines[angle=-45,distance=5pt,line width=0.5pt]}, pattern color=chatch] (h1) rectangle (h4);
\draw[chatch, line width=0.6pt] (h1) -- (h1 |- h4) (h4) -- (h4 |- h1);
\draw[cmag, line width=1.7pt, dash pattern=on 4.5pt off 3pt] (dA1) -- (dA4);
\draw[cmag, line width=1.7pt, dash pattern=on 4.5pt off 3pt] (dB1) -- (dB4);
\node[font=\fontsize{11}{13}\selectfont, text=cred] at (260pt,31pt) {\textasciitilde1ms};
\node[font=\fontsize{11}{13}\selectfont] at (295pt,12pt) {Time [ms]};
\end{tikzpicture}
\end{document}
